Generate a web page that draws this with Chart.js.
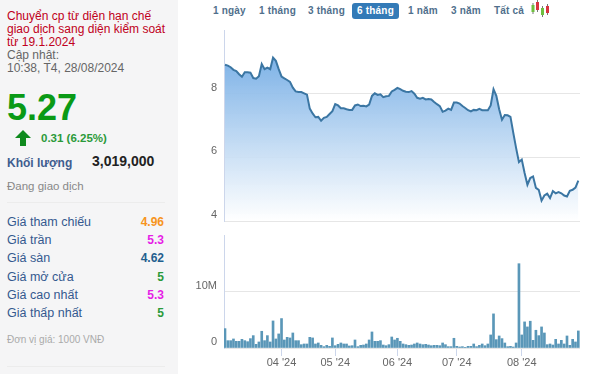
<!DOCTYPE html>
<html>
<head>
<meta charset="utf-8">
<script src="https://cdn.jsdelivr.net/npm/chart.js@4"></script>
<style>
    body { margin: 0; background: #fff; font-family: "Liberation Sans", Arial, sans-serif; }
    #page { position: relative; width: 589px; height: 374px; overflow: hidden; }
    #side { position: absolute; left: 0; top: 0; width: 178px; height: 374px; background: #f5f5f6; }
    #side div, .tab { position: absolute; white-space: nowrap; }
    .rule { left: 7px; width: 158px; height: 1px; background: #ececec; }
    .name { left: 7px; font-size: 12.5px; color: #34598f; }
    .val { right: 14px; font-size: 12px; font-weight: bold; }
    .tab { top: 3px; height: 16px; line-height: 15px; font-size: 10px; letter-spacing: 0.2px; font-weight: bold; color: #506f8c; }
    .tab.on { left: 352px; width: 47px; text-align: center; background: #337ab7; color: #fff; border-radius: 3px; }
    canvas { position: absolute; left: 180px; }
</style>
</head>
<body>
<div id="page">
    <div id="side">
        <div style="left:7px;top:10px;font-size:12px;line-height:13px;color:#c00020">Chuyển cp từ diện hạn chế<br>giao dịch sang diện kiểm soát<br>từ 19.1.2024</div>
        <div style="left:7px;top:49px;font-size:12px;line-height:13px;color:#666">Cập nhật:<br>10:38, T4, 28/08/2024</div>
        <div style="left:7px;top:88px;font-size:36px;line-height:40px;font-weight:bold;color:#0a9a16">5.27</div>
        <svg style="position:absolute;left:15px;top:130px" width="16" height="16"><polygon points="8,0 16,8 11,8 11,16 5,16 5,8 0,8" fill="#0f8a1e"/></svg>
        <div style="left:41px;top:132px;font-size:11.5px;font-weight:bold;color:#2b9a3a">0.31 (6.25%)</div>
        <div style="left:7px;top:156px;font-size:12px;font-weight:bold;color:#3f5d8f">Khối lượng</div>
        <div style="left:92px;top:153px;font-size:14px;font-weight:bold;color:#222">3,019,000</div>
        <div style="left:7px;top:180px;font-size:11.500px;color:#888">Đang giao dịch</div>
        <div class="rule" style="top:202px"></div>
        <div class="name" style="top:215px">Giá tham chiếu</div><div class="val" style="top:215px;color:#f7941d">4.96</div>
        <div class="name" style="top:233px">Giá trần</div><div class="val" style="top:233px;color:#e61ee6">5.3</div>
        <div class="name" style="top:251px">Giá sàn</div><div class="val" style="top:251px;color:#1f5f8f">4.62</div>
        <div class="name" style="top:270px">Giá mở cửa</div><div class="val" style="top:270px;color:#2a9a3a">5</div>
        <div class="name" style="top:288px">Giá cao nhất</div><div class="val" style="top:288px;color:#e61ee6">5.3</div>
        <div class="name" style="top:306px">Giá thấp nhất</div><div class="val" style="top:306px;color:#2a9a3a">5</div>
        <div style="left:7px;top:334px;font-size:10px;color:#aaa">Đơn vị giá: 1000 VNĐ</div>
        <div class="rule" style="top:366px"></div>
    </div>

    <div class="tab" style="left:213px">1 ngày</div>
    <div class="tab" style="left:259px">1 tháng</div>
    <div class="tab" style="left:308px">3 tháng</div>
    <div class="tab on">6 tháng</div>
    <div class="tab" style="left:408px">1 năm</div>
    <div class="tab" style="left:451px">3 năm</div>
    <div class="tab" style="left:494px">Tất cả</div>
    <svg style="position:absolute;left:530px;top:0" width="20" height="18">
        <path d="M3 3V14M7.500 0V12M12.500 6V17M17.500 4V15" stroke="#777" fill="none"/>
        <rect x="1.500" y="5" width="3" height="7" fill="#6fbf3f"/>
        <rect x="6" y="2" width="3" height="8" fill="#d8343f"/>
        <rect x="11" y="8" width="3" height="7" fill="#6fbf3f"/>
        <rect x="16" y="6" width="3" height="7" fill="#d8343f"/>
    </svg>

    <canvas id="priceChart" width="409" height="200" style="top:25px"></canvas>
    <canvas id="volumeChart" width="409" height="144" style="top:230px"></canvas>
</div>

<script>
// one value per trading day
const prices = [
    8.91, 8.88, 8.83, 8.75, 8.71, 8.61, 8.53, 8.67, 8.67, 8.66,
    8.49, 8.47, 8.55, 8.93, 8.77, 8.82, 8.77, 9.13, 9.03, 8.77,
    8.54, 8.48, 8.43, 8.37, 8.19, 8.07, 8.05, 8.05, 8.01, 7.97,
    7.53, 7.38, 7.26, 7.27, 7.15, 7.24, 7.27, 7.36, 7.45, 7.67,
    7.63, 7.54, 7.54, 7.51, 7.49, 7.49, 7.63, 7.66, 7.61, 7.62,
    7.60, 7.66, 7.93, 8.01, 7.96, 7.98, 7.89, 7.92, 7.93, 8.07,
    8.12, 8.18, 8.14, 8.09, 8.06, 8.05, 8.08, 8.00, 7.87, 7.84,
    7.87, 7.82, 7.83, 7.82, 7.74, 7.67, 7.61, 7.43, 7.47, 7.53,
    7.49, 7.72, 7.72, 7.69, 7.61, 7.55, 7.48, 7.44, 7.49, 7.48,
    7.52, 7.48, 7.48, 7.48, 7.63, 8.14, 7.93, 7.51, 7.18, 7.33,
    7.32, 7.27, 6.77, 6.29, 5.85, 5.93, 5.51, 5.14, 5.35, 5.40,
    5.04, 4.98, 4.64, 4.80, 4.86, 4.72, 4.94, 4.87, 4.91, 4.87,
    4.80, 4.77, 4.95, 4.98, 5.05, 5.27
];

// millions of shares
const volumes = [
    3.43, 1.30, 1.30, 1.60, 1.18, 1.18, 1.54, 1.30, 1.12, 1.66,
    2.19, 0.65, 1.07, 2.96, 1.30, 2.19, 1.07, 4.79, 1.60, 2.49,
    5.21, 1.42, 1.89, 1.78, 2.66, 1.30, 1.30, 0.59, 0.71, 0.71,
    1.89, 1.78, 0.71, 0.89, 0.47, 0.24, 0.47, 0.30, 1.78, 0.41,
    0.65, 0.89, 0.71, 0.71, 0.36, 0.41, 1.42, 0.24, 0.47, 0.53,
    0.71, 1.42, 2.84, 1.18, 1.18, 1.30, 0.53, 0.41, 0.59, 1.95,
    1.42, 1.72, 1.18, 0.71, 0.59, 0.47, 0.53, 0.71, 0.89, 0.71,
    0.59, 0.65, 0.53, 0.41, 0.47, 0.47, 0.41, 0.89, 0.59, 0.24,
    0.24, 1.72, 0.30, 0.18, 0.24, 0.12, 0.30, 0.30, 0.71, 0.24,
    0.47, 0.71, 0.41, 0.71, 2.31, 6.04, 1.48, 2.13, 1.66, 0.89,
    0.24, 0.30, 0.18, 0.89, 14.92, 2.31, 4.62, 3.73, 4.74, 1.36,
    3.14, 2.19, 3.73, 2.66, 0.59, 0.71, 0.53, 1.54, 0.71, 1.36,
    0.71, 2.13, 0.47, 1.54, 1.07, 3.02
];

const monthIndexes = [20, 39, 61, 82, 105];
const monthLabels = ["04 '24", "05 '24", "06 '24", "07 '24", "08 '24"];
const priceTicks = [4, 6, 8];
const volumeTicks = [0, 10];
const volumeTickLabels = ["0", "10M"];

const gridColor = "#e6e6e6";
const axisColor = "#ccd6eb";
const labelFont = { family: "'Liberation Sans', Arial, sans-serif", size: 11 };

function toPoints(list) {
    return list.map((v, i) => ({ x: i, y: v }));
}

function xAxis(showTicks) {
    return {
        type: "linear",
        min: -0.35,
        max: 125.6,
        offset: false,
        display: showTicks,
        afterBuildTicks: scale => { scale.ticks = monthIndexes.map(v => ({ value: v })); },
        afterFit: scale => {
            if (showTicks) scale.height = 26;
            scale.paddingLeft = 0;
            scale.paddingRight = 0;
        },
        grid: { offset: false, drawOnChartArea: false, drawTicks: true, tickLength: 8, tickColor: axisColor },
        border: { display: false },
        ticks: {
            autoSkip: false,
            maxRotation: 0,
            padding: 0,
            color: "#666",
            font: labelFont,
            callback: v => monthLabels[monthIndexes.indexOf(v)]
        }
    };
}

function yAxis(min, max, step, label) {
    return {
        min: min,
        max: max,
        afterFit: scale => {
            scale.width = 44;
            // no extra room for the tick labels, the plot has fixed bounds
            scale.paddingTop = 0;
            scale.paddingBottom = 0;
        },
        grid: { color: gridColor, drawTicks: false },
        border: { color: axisColor },
        ticks: {
            stepSize: step,
            padding: 7,
            labelOffset: -6,
            color: "#666",
            font: labelFont,
            callback: label
        }
    };
}

new Chart(document.getElementById("priceChart"), {
    type: "line",
    data: {
        datasets: [{
            data: toPoints(prices),
            borderColor: "#3b76a3",
            borderWidth: 2,
            pointRadius: 0,
            fill: "start",
            backgroundColor: ctx => {
                const area = ctx.chart.chartArea;
                if (!area) return "transparent";
                const g = ctx.chart.ctx.createLinearGradient(0, area.top + 20, 0, area.bottom);
                g.addColorStop(0, "rgba(112,170,228,0.95)");
                g.addColorStop(1, "rgba(255,255,255,0.9)");
                return g;
            }
        }]
    },
    options: {
        responsive: false,
        animation: false,
        layout: { padding: { top: 5, right: 9, bottom: 4 } },
        plugins: { legend: { display: false }, tooltip: { enabled: false } },
        scales: {
            x: xAxis(false),
            y: yAxis(4, 10, 2, v => (priceTicks.includes(v) ? String(v) : null))
        }
    }
});

new Chart(document.getElementById("volumeChart"), {
    type: "bar",
    data: {
        datasets: [{
            data: toPoints(volumes),
            backgroundColor: "#5a97b8",
            barThickness: 2
        }]
    },
    options: {
        responsive: false,
        animation: false,
        layout: { padding: { top: 5, right: 9 } },
        plugins: { legend: { display: false }, tooltip: { enabled: false } },
        scales: {
            x: xAxis(true),
            y: yAxis(0, 20, 10, v => volumeTickLabels[volumeTicks.indexOf(v)] ?? null)
        }
    }
});
</script>
</body>
</html>
